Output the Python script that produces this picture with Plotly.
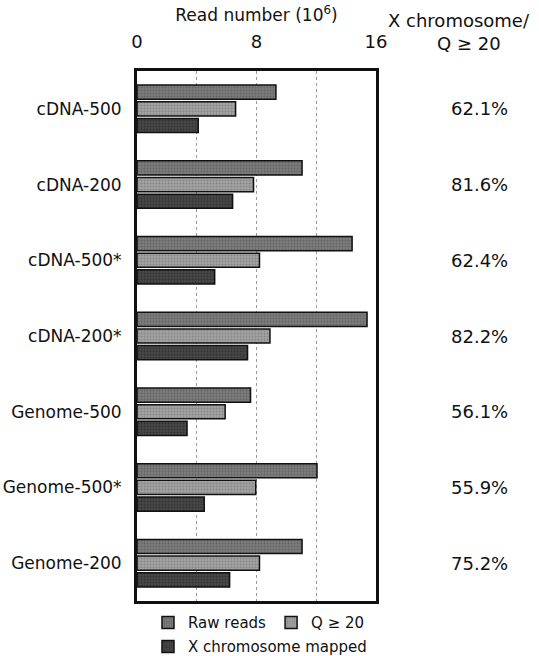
import plotly.graph_objects as go

categories = ["cDNA-500", "cDNA-200", "cDNA-500*", "cDNA-200*",
              "Genome-500", "Genome-500*", "Genome-200"]
raw_reads = [9.3, 11.05, 14.4, 15.4, 7.6, 12.05, 11.05]
q20_reads = [6.6, 7.8, 8.2, 8.9, 5.9, 7.95, 8.2]
x_mapped = [4.1, 6.4, 5.2, 7.4, 3.35, 4.5, 6.2]
x_over_q20 = ["62.1%", "81.6%", "62.4%", "82.2%", "56.1%", "55.9%", "75.2%"]
tick_vals = [0, 8, 16]

FONT = "DejaVu Sans"
INK = "#111111"

fig = go.Figure()
series = [
    ("Raw reads", raw_reads, "#7c7c7c", "#4a4a4a", "legend"),
    ("Q ≥ 20", q20_reads, "#a2a2a2", "#6c6c6c", "legend"),
    ("X chromosome mapped", x_mapped, "#474747", "#1e1e1e", "legend2"),
]
for name, vals, bg, fg, lg in series:
    fig.add_trace(go.Bar(
        y=categories, x=vals, name=name, orientation="h", legend=lg,
        marker=dict(color=bg, line=dict(color=INK, width=1.5),
                    pattern=dict(shape=".", fgcolor=fg, bgcolor=bg,
                                 size=3, solidity=0.35)),
    ))

for cat, txt in zip(categories, x_over_q20):
    fig.add_annotation(x=1.431, xref="paper", y=cat, yref="y", text=txt,
                       showarrow=False, xanchor="center",
                       font=dict(family=FONT, size=18, color=INK))

fig.add_annotation(x=1.347, xref="paper", y=1.0, yref="paper", yshift=51,
                   text="X chromosome/", showarrow=False, xanchor="center",
                   yanchor="middle", font=dict(family=FONT, size=18, color=INK))
fig.add_annotation(x=1.389, xref="paper", y=1.0, yref="paper", yshift=28,
                   text="Q ≥ 20", showarrow=False, xanchor="center",
                   yanchor="middle", font=dict(family=FONT, size=18, color=INK))

fig.update_layout(
    width=539, height=656,
    margin=dict(l=137, r=163, t=71, b=55, autoexpand=False),
    paper_bgcolor="white", plot_bgcolor="white",
    barmode="group", bargap=0.34, bargroupgap=0.15,
    font=dict(family=FONT, size=16, color=INK),
    showlegend=True,
    legend=dict(orientation="h", x=0.046, xanchor="left", y=-0.01, yanchor="top",
                font=dict(family=FONT, size=15, color=INK),
                itemwidth=30, traceorder="normal"),
    legend2=dict(orientation="h", x=0.046, xanchor="left", y=-0.055, yanchor="top",
                 font=dict(family=FONT, size=15, color=INK),
                 itemwidth=30),
    xaxis=dict(side="top", range=[0, 16], tickvals=tick_vals,
               ticktext=[str(v) for v in tick_vals],
               tickfont=dict(family=FONT, size=18, color=INK),
               ticks="", ticklabelstandoff=13, automargin=False,
               showgrid=True, gridcolor="#9a9a9a", griddash="dot", gridwidth=1,
               minor=dict(tickvals=[4, 12], showgrid=True, gridcolor="#9a9a9a",
                          griddash="dot", gridwidth=1),
               showline=True, linecolor=INK, linewidth=3, mirror=True,
               zeroline=False,
               title=dict(text="Read number (10<sup>6</sup>)", standoff=5,
                          font=dict(family=FONT, size=17, color=INK))),
    yaxis=dict(autorange="reversed", ticks="", ticklabelstandoff=9,
               automargin=False,
               tickfont=dict(family=FONT, size=17, color=INK),
               showline=True, linecolor=INK, linewidth=3, mirror=True,
               showgrid=False),
)

fig.write_html("out.html", config={"displayModeBar": False},
               post_script="document.body.style.margin='0';document.body.style.overflow='hidden';")
